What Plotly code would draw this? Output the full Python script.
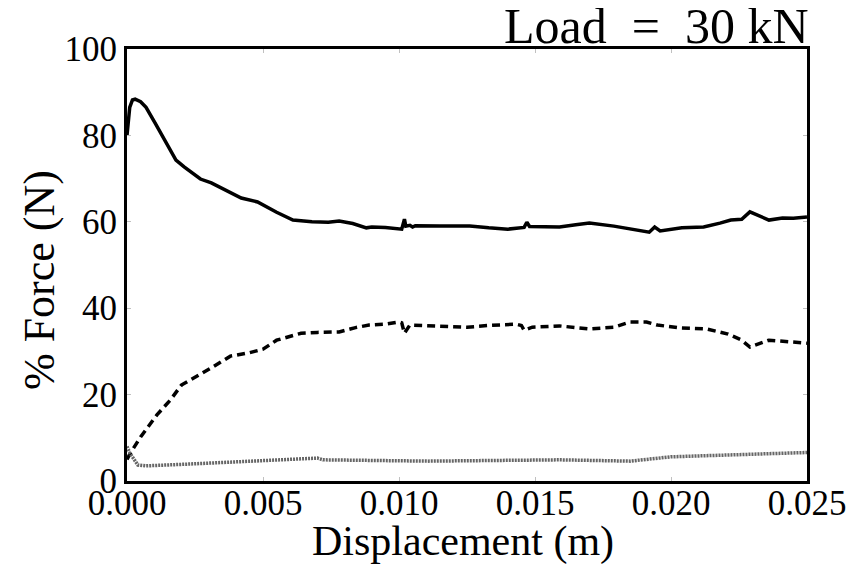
import plotly.graph_objects as go

# ---- data ----
solid_x = [0.0, 0.00005, 0.0001, 0.0002, 0.0003, 0.0005, 0.0007, 0.00103, 0.0014, 0.0018,
           0.0021, 0.0024, 0.0027, 0.0031, 0.0038, 0.0042, 0.0048, 0.0055, 0.0061, 0.0068,
           0.0074, 0.0078, 0.0083, 0.0088, 0.0090, 0.0095, 0.0101, 0.0102, 0.01025, 0.0104,
           0.0105, 0.0106, 0.0115, 0.0126, 0.0133, 0.0140, 0.0146, 0.0147, 0.0148, 0.0159,
           0.0165, 0.0170, 0.0179, 0.0188, 0.0192, 0.0194, 0.0196, 0.0204, 0.0212, 0.0218,
           0.0222, 0.0226, 0.0229, 0.0236, 0.0241, 0.0245, 0.0250]
solid_y = [80.0, 84.0, 86.5, 88.2, 88.4, 87.8, 86.5, 82.9, 78.9, 74.3,
           72.7, 71.2, 69.9, 69.0, 66.7, 65.5, 64.6, 62.2, 60.4, 60.0,
           59.9, 60.2, 59.6, 58.6, 58.8, 58.7, 58.3, 60.6, 59.0, 59.2,
           58.8, 59.1, 59.0, 59.0, 58.6, 58.3, 58.7, 59.9, 58.9, 58.8,
           59.3, 59.7, 59.0, 57.9, 57.6, 58.8, 57.9, 58.6, 58.8, 59.7,
           60.4, 60.6, 62.3, 60.4, 60.9, 60.8, 61.1]

dash_x = [0.0, 0.0001, 0.0005, 0.0011, 0.0016, 0.0020, 0.0031, 0.0038, 0.0045, 0.0050,
          0.0055, 0.0060, 0.0064, 0.0070, 0.0078, 0.0084, 0.0089, 0.0095, 0.0100, 0.0101,
          0.0102, 0.0104, 0.0110, 0.0118, 0.0125, 0.0133, 0.0143, 0.0145, 0.0146, 0.0149,
          0.0159, 0.0170, 0.0179, 0.0185, 0.0191, 0.0195, 0.0204, 0.0213, 0.0221, 0.0226,
          0.0229, 0.0236, 0.0243, 0.0250]
dash_y = [5.0, 6.2, 10.2, 15.3, 18.8, 22.2, 26.2, 28.9, 29.7, 30.5,
          32.6, 33.6, 34.2, 34.4, 34.5, 35.5, 36.1, 36.3, 36.8, 36.6,
          34.2, 36.1, 36.0, 35.9, 35.6, 36.0, 36.3, 36.0, 34.9, 35.6,
          35.9, 35.2, 35.6, 36.8, 36.8, 36.1, 35.4, 35.2, 34.0, 32.6,
          31.0, 32.6, 32.3, 31.9]

grey_x = [0.0, 0.0001, 0.0004, 0.0007, 0.0022, 0.0046, 0.0070, 0.0072, 0.0111, 0.0159,
          0.0185, 0.0200, 0.0224, 0.0250]
grey_y = [8.0, 6.5, 3.7, 3.5, 3.9, 4.6, 5.3, 4.9, 4.6, 4.9,
          4.6, 5.6, 6.0, 6.6]

x_ticks = [0.0, 0.005, 0.010, 0.015, 0.020, 0.025]
x_tick_labels = ["0.000", "0.005", "0.010", "0.015", "0.020", "0.025"]
y_ticks = [0, 20, 40, 60, 80, 100]
y_tick_labels = ["0", "20", "40", "60", "80", "100"]

FONT = "Liberation Serif"

fig = go.Figure()
fig.add_trace(go.Scatter(x=solid_x, y=solid_y, mode="lines",
                         line=dict(color="black", width=3.5), showlegend=False))
fig.add_trace(go.Scatter(x=dash_x, y=dash_y, mode="lines",
                         line=dict(color="black", width=3.5, dash="8px,5px"), showlegend=False))
fig.add_trace(go.Scatter(x=grey_x, y=grey_y, mode="lines",
                         line=dict(color="#666666", width=3.5, dash="2px,1px"), showlegend=False))

axis_common = dict(showgrid=False, zeroline=False, showline=True, linecolor="black",
                   linewidth=3, mirror="ticks", ticks="inside", ticklen=4,
                   tickcolor="#c0c0c0", tickwidth=1,
                   tickfont=dict(family=FONT, size=35, color="black"), automargin=False)

fig.update_xaxes(range=[0, 0.025], tickvals=x_ticks, ticktext=x_tick_labels,
                 ticklabelstandoff=-11, **axis_common)
fig.update_yaxes(range=[0, 100], tickvals=y_ticks, ticktext=y_tick_labels,
                 **axis_common)

# axis titles
fig.add_annotation(text="Displacement (m)", xref="paper", yref="paper",
                   x=0.5, y=0, xanchor="center", yanchor="top", xshift=-4, yshift=-35,
                   showarrow=False, font=dict(family=FONT, size=42, color="black"))
fig.add_annotation(text="% Force (N)", xref="paper", yref="paper", textangle=-90,
                   x=0, y=0.5, xanchor="center", yanchor="middle", xshift=-88, yshift=-15,
                   showarrow=False, font=dict(family=FONT, size=44, color="black"))
# title
fig.add_annotation(text="Load\u2002=\u200230 kN", xref="paper", yref="paper",
                   x=1, y=1, xanchor="right", yanchor="bottom", xshift=4, yshift=-7,
                   showarrow=False, font=dict(family=FONT, size=50, color="black"))

fig.update_layout(width=840, height=558, margin=dict(l=119, r=41, t=41, b=85),
                  paper_bgcolor="white", plot_bgcolor="white",
                  font=dict(family=FONT, color="black"))

fig.write_html("out.html")
